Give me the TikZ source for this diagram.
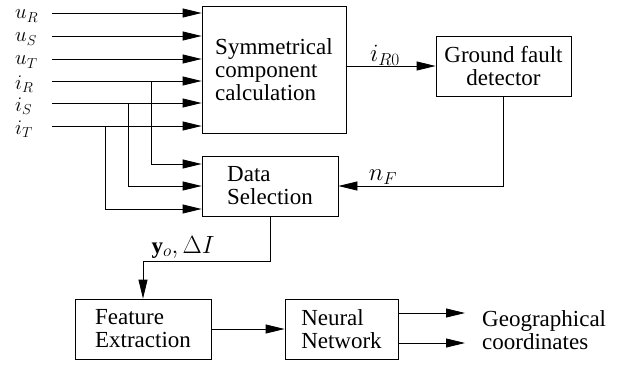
\documentclass[tikz,border=0pt]{standalone}
\usepackage{fontspec}
\setmainfont{Liberation Serif}
\usetikzlibrary{arrows.meta}
\begin{document}
\begin{tikzpicture}[x=1pt,y=-1pt,
  font=\fontsize{23}{23}\selectfont,
  box/.style={draw,line width=0.8pt,inner sep=0pt,align=left},
  wire/.style={line width=0.8pt},
  arr/.style={wire,-{Triangle[length=19pt,width=9pt]}},
  lab/.style={inner sep=0pt},
  inlab/.style={lab,anchor=west,font=\fontsize{20.5}{21}\selectfont}]
\useasboundingbox (0,0) rectangle (623,367);
% boxes
\node[box,minimum width=144pt,minimum height=127pt] (sym) at (274,69.5) {Symmetrical\\component\\calculation};
\node[box,align=center,minimum width=135pt,minimum height=60pt] (gfd) at (503.5,66) {Ground fault\\detector};
\node[box,minimum width=136pt,minimum height=60pt] (ds) at (270,186) {Data\\Selection};
\node[box,minimum width=136pt,minimum height=60pt] (fe) at (143,329) {Feature\\Extraction};
\node[box,minimum width=113pt,minimum height=60pt] (nn) at (341.5,329) {Neural\\Network};
\node[lab,anchor=west,align=left] (geo) at (482,330) {Geographical\\coordinates};
% inputs
\foreach \n/\y/\t in {uR/13/{u_R},uS/36/{u_S},uT/59/{u_T},iR/81/{i_R},iS/103/{i_S},iT/126/{i_T}}{
  \coordinate (\n) at (52,\y);
  \node[inlab] (l\n) at (15,\y+3) {$\t$};
  \draw[arr] (\n) -- (sym.west |- \n);
}
% branches to data selection
\coordinate (bR) at (151,81);  \coordinate (kR) at (151,164);
\coordinate (bS) at (128,103); \coordinate (kS) at (128,186);
\coordinate (bT) at (105,126); \coordinate (kT) at (105,209);
\draw[arr] (bR) -- (kR) -- (ds.west |- kR);
\draw[arr] (bS) -- (kS) -- (ds.west |- kS);
\draw[arr] (bT) -- (kT) -- (ds.west |- kT);
% i_R0
\draw[arr] (sym.east |- gfd.west) -- (gfd.west);
\node[lab] (liR0) at (385,55) {$i_{R0}$};
% n_F
\draw[arr] (gfd.south) |- (ds.east);
\node[lab] (lnF) at (383,177) {$n_F$};
% data selection output
\coordinate (c1) at (270,261);
\coordinate (c2) at (143,261);
\draw[arr] (ds.south) -- (c1) -- (c2) -- (fe.north);
\node[lab] (lyo) at (183,247) {$\mathbf{y}_o,\Delta I$};
% feature -> neural
\draw[arr] (fe) -- (nn);
% outputs
\coordinate (o1) at (465,313);
\coordinate (o2) at (465,343);
\draw[arr] (nn.east |- o1) -- (o1);
\draw[arr] (nn.east |- o2) -- (o2);
\end{tikzpicture}
\end{document}
